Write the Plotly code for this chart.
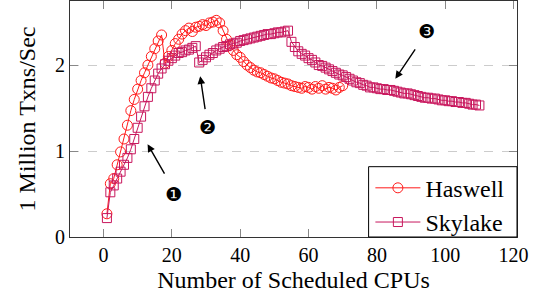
import plotly.graph_objects as go

haswell_x = list(range(1, 71))
haswell_y = [
    0.27, 0.62, 0.68, 0.84, 0.99, 1.14, 1.30, 1.47, 1.60, 1.72,
    1.82, 1.91, 2.00, 2.10, 2.19, 2.28, 2.35, 2.02, 2.10, 2.17,
    2.25, 2.30, 2.36, 2.40, 2.43, 2.39, 2.44, 2.45, 2.47, 2.46,
    2.49, 2.50, 2.52, 2.49, 2.40, 2.30, 2.23, 2.17, 2.12, 2.09,
    2.04, 2.00, 1.97, 1.94, 1.92, 1.91, 1.89, 1.87, 1.85, 1.84,
    1.82, 1.80, 1.79, 1.78, 1.76, 1.75, 1.74, 1.73, 1.75, 1.74,
    1.72, 1.75, 1.73, 1.76, 1.72, 1.74, 1.73, 1.71, 1.74, 1.76,
]

skylake_x = list(range(1, 111))
skylake_y = [
    0.22, 0.52, 0.60, 0.68, 0.76, 0.84, 0.92, 1.02, 1.14, 1.27,
    1.40, 1.52, 1.63, 1.73, 1.82, 1.90, 1.96, 2.01, 2.05, 2.08,
    2.11, 2.14, 2.15, 2.17, 2.18, 2.20, 2.22, 2.03, 2.06, 2.09,
    2.12, 2.14, 2.17, 2.19, 2.21, 2.22, 2.24, 2.25, 2.26, 2.28,
    2.29, 2.30, 2.31, 2.32, 2.33, 2.34, 2.35, 2.36, 2.36, 2.37,
    2.38, 2.38, 2.39, 2.40, 2.27, 2.21, 2.16, 2.13, 2.11, 2.08,
    2.06, 2.03, 2.00, 1.99, 1.97, 1.95, 1.93, 1.91, 1.89, 1.88,
    1.86, 1.84, 1.82, 1.80, 1.79, 1.77, 1.76, 1.74, 1.74, 1.73,
    1.72, 1.72, 1.71, 1.71, 1.70, 1.69, 1.68, 1.67, 1.67, 1.66,
    1.65, 1.64, 1.63, 1.62, 1.62, 1.61, 1.61, 1.60, 1.59, 1.59,
    1.58, 1.58, 1.57, 1.57, 1.56, 1.56, 1.55, 1.54, 1.54, 1.53,
]

x_ticks = [0, 20, 40, 60, 80, 100, 120]
y_ticks = [0, 1, 2]

# annotation callouts: label, label position, arrow tail, arrow head (data coords)
callout_labels = ["\u2776", "\u2777", "\u2778"]
callout_label_pos = [(20.5, 0.50), (30.3, 1.28), (94.6, 2.40)]
callout_tail = [(18.1, 0.72), (29.8, 1.47), (91.5, 2.20)]
callout_head = [(12.9, 1.08), (28.3, 1.87), (85.4, 1.84)]

HASWELL = "#ff1a1a"
SKYLAKE = "#c8175d"
FONT = "Liberation Serif, Times New Roman, DejaVu Serif, serif"

fig = go.Figure()
fig.add_trace(go.Scatter(
    x=haswell_x, y=haswell_y, name="Haswell", mode="lines+markers",
    line=dict(color=HASWELL, width=1),
    marker=dict(symbol="circle-open", size=10, color=HASWELL, line=dict(width=1)),
))
fig.add_trace(go.Scatter(
    x=skylake_x, y=skylake_y, name="Skylake", mode="lines+markers",
    line=dict(color=SKYLAKE, width=1),
    marker=dict(symbol="square-open", size=9, color=SKYLAKE, line=dict(width=1)),
))

for lab, lp, tl, hd in zip(callout_labels, callout_label_pos, callout_tail, callout_head):
    fig.add_annotation(x=hd[0], y=hd[1], ax=tl[0], ay=tl[1], xref="x", yref="y",
                       axref="x", ayref="y", text="", showarrow=True,
                       arrowhead=2, arrowsize=1.1, arrowwidth=1.4, arrowcolor="black")
    fig.add_annotation(x=lp[0], y=lp[1], xref="x", yref="y", text=lab, showarrow=False,
                       font=dict(family="DejaVu Sans", size=19, color="black"))

# legend frame
fig.add_shape(type="rect", xref="paper", yref="paper", x0=0.668, x1=1.0, y0=0.0, y1=0.298,
              line=dict(color="black", width=1), fillcolor="white", layer="above")

fig.update_layout(
    width=540, height=304,
    margin=dict(l=70, r=23, t=1, b=67),
    paper_bgcolor="white", plot_bgcolor="white",
    font=dict(family=FONT, size=20, color="black"),
    showlegend=True,
    legend=dict(x=0.672, y=0.302, xanchor="left", yanchor="top",
                bgcolor="rgba(0,0,0,0)", borderwidth=0, itemwidth=45,
                font=dict(family=FONT, size=24), tracegroupgap=0),
)
fig.update_xaxes(
    range=[-9.8, 121], tickvals=x_ticks, ticks="inside", ticklen=8, tickcolor="#888",
    showline=True, linecolor="#333", linewidth=1, mirror="ticks",
    showgrid=False, zeroline=False, automargin=False,
    title=dict(text="Number of Scheduled CPUs", font=dict(family=FONT, size=24), standoff=6),
    tickfont=dict(family=FONT, size=20),
)
fig.update_yaxes(
    range=[0, 2.745], tickvals=y_ticks, ticks="inside", ticklen=8, tickcolor="#888",
    showline=True, linecolor="#333", linewidth=1, mirror="ticks",
    showgrid=True, gridcolor="#cccccc", griddash="dash", gridwidth=1, zeroline=False,
    automargin=False,
    title=dict(text="1 Million Txns/Sec", font=dict(family=FONT, size=24), standoff=12),
    tickfont=dict(family=FONT, size=20),
)

fig.write_html("out.html", config={"displayModeBar": False},
               post_script="document.body.style.margin='0';document.body.style.padding='0';")
